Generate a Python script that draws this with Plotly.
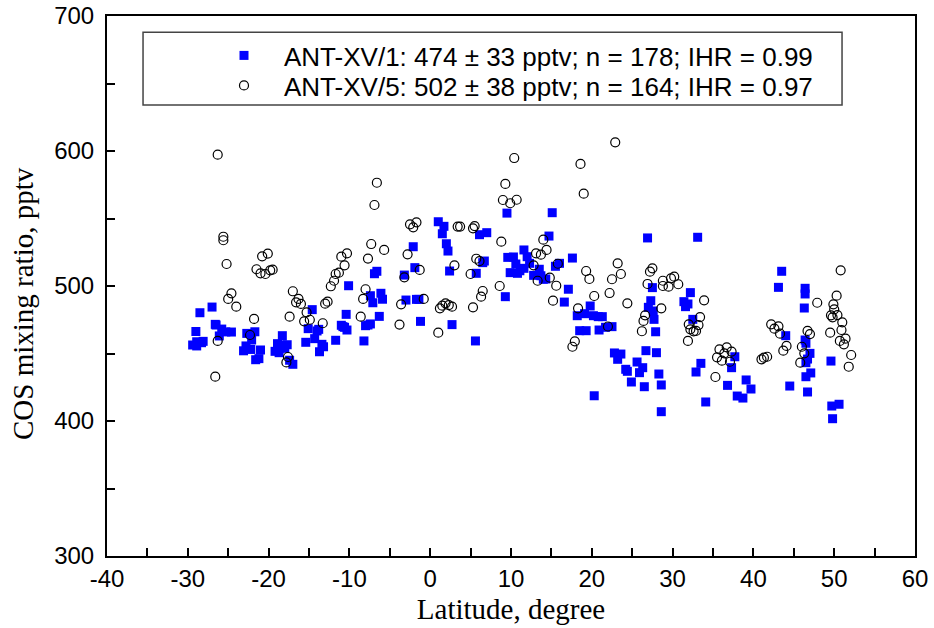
import plotly.graph_objects as go

# ANT-XV/1 (blue squares)
lat1 = [-27.0, -28.5, -26.6, -26.5, -29.0, -25.8, -25.3, -24.6, -26.1, -29.4, -28.9, -28.3, -28.1, -28.9,
        -22.7, -21.7, -22.1, -22.8, -23.1, -22.2, -21.0, -21.6, -21.2, -18.3, -18.9, -18.3, -17.7, -18.0,
        -19.2, -18.7, -17.4, -17.0, -15.4, -15.1,
        1.0, 1.7, 1.5, 6.1, 7.0, 9.5, -2.1, 2.0, 2.2, 6.7, 6.5, 9.6, -1.9, -6.6, -6.9, 2.4, 5.7, 9.9, -10.1, -3.2,
        -7.4, -6.1, -5.9, -7.1, -3.0, -1.7, -1.4, 9.3, -14.6, -10.4, -6.3, -14.0, -13.8, -11.0, -10.6, -10.3,
        -10.8, -8.0, -7.4, -7.7, -1.2, 2.7, -14.3, -13.4, -13.2, -13.7, -11.7, -8.2, 5.6,
        15.1, 14.7, 26.9, 33.1, 11.6, 12.0, 10.3, 17.6, 10.6, 12.3, 16.0, 15.5, 11.6, 11.1, 10.8, 13.5, 12.8,
        13.7, 14.0, 14.3, 17.1, 27.5,
        16.6, 19.8, 19.1, 18.2, 20.2, 20.8, 21.3, 18.5, 19.3, 20.9, 21.7, 22.5, 27.3, 27.0, 27.6, 27.7, 27.9,
        32.2, 31.4, 31.9, 31.6, 32.5, 22.8, 23.6, 23.2, 25.6, 26.3, 25.9, 26.7, 28.0, 24.2, 24.4, 28.3, 28.6,
        24.9, 26.5, 20.3, 28.6, 33.5, 32.9, 34.1,
        43.5, 43.1, 46.4,
        46.4, 46.3, 44.0, 46.4, 46.5, 47.0, 46.7, 46.5, 47.1, 46.5, 46.7, 49.6, 49.7, 50.6, 49.8, 37.7, 37.3,
        39.1, 39.7, 36.8, 38.0, 38.7, 44.5]
cos1 = [484.4, 480.2, 471.6, 471.1, 466.3, 468.1, 466.0, 465.9, 463.0, 456.3, 455.6, 458.0, 459.0, 458.7,
        464.9, 466.1, 460.0, 455.6, 452.0, 453.0, 452.6, 445.4, 446.2, 463.2, 457.3, 456.3, 456.5, 453.8,
        451.6, 450.6, 445.0, 442.0, 458.3, 468.4,
        547.6, 544.2, 538.7, 538.0, 539.5, 554.0, 529.1, 531.3, 525.9, 518.5, 517.3, 521.2, 513.6, 510.9, 509.1,
        511.1, 509.4, 509.9, 500.2, 508.1,
        492.8, 494.6, 490.2, 487.6, 489.6, 490.1, 490.1, 492.1, 482.5, 479.0, 477.5, 466.7, 467.9, 470.9, 469.4,
        467.4, 469.9, 470.6, 471.9, 471.1, 473.8, 471.4, 461.0, 456.8, 455.0, 451.3, 459.8, 459.3, 459.3,
        554.3, 537.0, 535.6, 536.1, 526.7, 521.7, 521.5, 520.7, 516.3, 516.8, 516.8, 514.6, 513.1, 511.3, 509.4,
        512.4, 507.9, 507.6, 505.0, 505.2, 497.6, 498.8,
        488.1, 485.2, 479.5, 478.0, 478.0, 477.3, 477.3, 466.9, 466.9, 467.4, 469.4, 469.9, 489.1, 484.2, 481.5,
        475.3, 466.1, 495.1, 488.4, 486.7, 484.7, 475.3, 450.4, 449.6, 445.7, 443.7, 439.5, 435.8, 452.1, 450.6,
        438.3, 436.8, 434.8, 426.7, 428.9, 425.4, 418.7, 406.9, 442.7, 436.3, 414.1,
        510.9, 499.0, 498.3,
        494.1, 483.7, 463.2, 460.0, 457.6, 450.1, 445.9, 443.2, 435.6, 432.8, 421.5, 444.4, 411.1, 412.4, 401.7,
        447.6, 439.5, 430.4, 423.7, 426.4, 418.5, 417.0, 425.9]

# ANT-XV/5 (open circles)
lat5 = [-26.3, -25.6, -25.6, -25.2, -20.8, -20.1, -21.5, -21.0, -20.4, -19.8, -19.5,
        -24.6, -25.0, -24.0, -21.8, -26.3, -26.6, -17.0, -16.3, -16.6, -16.0, -15.3, -17.4, -15.6, -22.3,
        -17.6, -17.8,
        -6.6, -6.9, -2.5, -1.7, -2.1, 3.4, 3.7, 5.5, 5.3, 9.3, 9.0, 9.9, -7.3, -5.7, -7.7, -10.3, -11.0, -10.6,
        -11.3, -11.7, -11.9, -12.3, -8.0, -2.8, -1.3, -3.2, 3.0, 5.0, 8.8, 5.7, 6.1, 8.6, 6.5,
        -8.3, -13.0, -12.7, -14.9, -13.3, -8.6, -3.8, -3.6, -0.8, 1.0, 1.2, 1.5, 1.9, 2.3, 2.7, 5.3, 6.3,
        22.9, 10.4, 18.6, 19.0, 10.7, 14.0, 14.4, 13.1, 13.7, 12.8, 15.8, 14.8, 13.3, 15.6, 19.3, 19.7, 23.2,
        23.6, 22.5, 27.5, 27.2, 26.9, 28.8, 28.8, 29.5, 29.8, 30.2, 30.7,
        15.2, 20.3, 22.2, 24.4, 18.3, 28.6, 26.6, 26.4, 26.2, 33.9, 33.4, 32.0, 33.2, 32.2, 32.6, 32.9, 31.9,
        22.0, 17.9, 17.6,
        50.8,
        42.2, 42.6, 43.1, 43.3, 44.1, 43.7, 41.0, 41.3, 41.7, 35.8, 36.7, 37.3, 36.4, 35.5, 36.1, 37.1, 35.3,
        47.9, 46.7, 47.0, 46.0, 46.3, 45.8, 50.3, 49.9, 50.0, 49.6, 49.8, 50.4, 51.0, 50.9, 49.5, 51.4, 50.7,
        51.2, 52.1, 51.8]
cos5 = [597.3, 536.5, 533.9, 516.3, 522.0, 524.0, 512.4, 509.4, 508.9, 511.6, 512.1,
        494.6, 490.4, 484.7, 475.6, 459.3, 432.8, 496.1, 490.4, 487.9, 486.7, 480.5, 477.3, 473.8, 463.7,
        447.4, 443.4,
        576.5, 560.0, 545.7, 547.2, 543.5, 544.0, 544.0, 544.4, 542.7, 575.6, 563.7, 561.3, 531.1, 526.7, 520.3,
        524.2, 521.7, 515.3, 509.9, 508.9, 503.9, 499.8, 497.6, 523.5, 511.9, 506.4, 515.3, 508.9, 532.8, 520.2,
        518.5, 500.0, 496.3,
        490.4, 486.9, 488.4, 475.0, 472.4, 477.3, 471.4, 486.4, 490.4, 465.4, 483.5, 485.4, 487.2, 485.9, 484.7,
        484.2, 492.1,
        606.4, 594.8, 590.4, 568.4, 563.9, 534.3, 526.7, 524.2, 523.2, 515.3, 516.5, 506.2, 503.9, 500.2, 511.1,
        505.2, 516.8, 508.9, 505.0, 513.1, 510.6, 501.5, 503.9, 500.0, 499.5, 505.7, 506.9, 501.3,
        489.1, 492.6, 494.8, 487.2, 483.5, 483.5, 478.3, 474.1, 466.5, 489.4, 477.0, 471.6, 471.1, 467.9, 466.4,
        466.7, 459.3, 470.0, 459.0, 455.0,
        511.6,
        471.6, 468.4, 470.1, 464.7, 455.6, 452.1, 445.7, 446.9, 447.6, 453.1, 454.6, 451.4, 450.1, 447.2, 444.7,
        443.9, 432.6, 487.6, 466.7, 464.4, 455.0, 450.1, 443.2, 492.8, 486.4, 482.7, 478.3, 476.8, 478.5, 473.1,
        467.4, 465.4, 461.0, 459.3, 456.8, 448.9, 440.2]

name1 = "ANT-XV/1: 474 ± 33 pptv; n = 178; IHR = 0.99"
name5 = "ANT-XV/5: 502 ± 38 pptv; n = 164; IHR = 0.97"

x_tickvals = [-40, -30, -20, -10, 0, 10, 20, 30, 40, 50, 60]
x_ticktext = ["-40", "-30", "-20", "-10", "0", "10", "20", "30", "40", "50", "60"]
y_tickvals = [300, 400, 500, 600, 700]

x_title = "Latitude, degree"
y_title = "COS mixing ratio, pptv"

SANS = "Liberation Sans, Arial, sans-serif"
SERIF = "Liberation Serif, Times New Roman, serif"

fig = go.Figure()
fig.add_trace(go.Scatter(x=lat1, y=cos1, mode="markers", name=name1, legend="legend",
                         marker=dict(symbol="square", size=9, color="#0000FF",
                                     line=dict(width=0))))
fig.add_trace(go.Scatter(x=lat5, y=cos5, mode="markers", name=name5, legend="legend2",
                         marker=dict(symbol="circle-open", size=9, color="black",
                                     line=dict(width=1.2, color="black"))))

axis_common = dict(showline=True, linewidth=2, linecolor="black", mirror=True,
                   showgrid=False, zeroline=False, ticks="inside", ticklen=8,
                   tickwidth=1.5, tickcolor="black",
                   tickfont=dict(family=SANS, size=24, color="black"))

fig.update_xaxes(range=[-40, 60], tickmode="array", tickvals=x_tickvals, ticktext=x_ticktext,
                 minor=dict(dtick=5, tick0=0, ticks="inside", ticklen=8, tickwidth=1.5, tickcolor="black"),
                 title=dict(text=x_title, font=dict(family=SERIF, size=29, color="black"),
                            standoff=8),
                 **axis_common)
fig.update_yaxes(range=[300, 700], tickmode="array", tickvals=y_tickvals,
                 minor=dict(dtick=50, tick0=0, ticks="inside", ticklen=8, tickwidth=1.5, tickcolor="black"),
                 ticklabelstandoff=6,
                 **axis_common)

# y-axis title (placed slightly below the plot-area centre as in the reference)
fig.add_annotation(text=y_title, textangle=-90, xref="paper", yref="paper",
                   x=(23 - 107) / 808, y=(556 - 304) / 540, xanchor="center", yanchor="middle",
                   showarrow=False, font=dict(family=SERIF, size=29, color="black"))

# legend frame
fig.add_shape(type="rect", xref="paper", yref="paper", x0=0.0446, x1=0.9097, y0=0.835, y1=0.970,
              line=dict(color="#444444", width=1.5), fillcolor="rgba(0,0,0,0)")

leg_common = dict(xanchor="left", yanchor="top", bgcolor="rgba(0,0,0,0)", borderwidth=0,
                  itemwidth=70, font=dict(family=SANS, size=26, color="black"))

fig.update_layout(
    width=934, height=628,
    margin=dict(l=107, r=19, t=16, b=72, autoexpand=False),
    paper_bgcolor="white", plot_bgcolor="white",
    legend=dict(x=(204 - 107) / 808, y=(556 - 32) / 540, **leg_common),
    legend2=dict(x=(204 - 107) / 808, y=(556 - 62) / 540, **leg_common),
    showlegend=True,
)

fig.write_html("out.html")
